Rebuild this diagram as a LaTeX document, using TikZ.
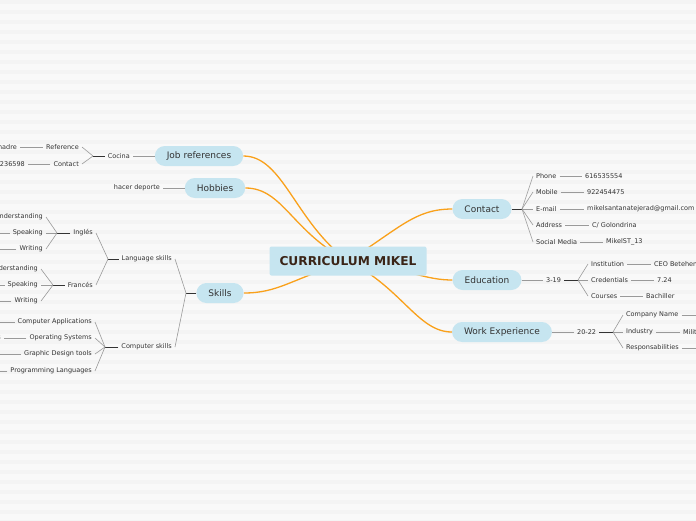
\documentclass[tikz,border=0pt]{standalone}
\usepackage{fontspec}
\setmainfont{DejaVu Sans}
\usetikzlibrary{backgrounds}
\definecolor{pill}{HTML}{C6E5F0}
\definecolor{branch}{HTML}{F9A11B}
\definecolor{ink}{HTML}{333333}
\definecolor{wire}{HTML}{9A9A9A}
\definecolor{titleink}{HTML}{3A2417}
\definecolor{paper}{HTML}{F9F9F9}
\definecolor{stripe}{HTML}{F4F4F4}
\tikzset{
  topic/.style={fill=pill,rounded corners=10pt,minimum height=20pt,inner xsep=12pt,
    font=\fontsize{9}{10}\selectfont,text=ink},
  leaf/.style={inner xsep=3pt,inner ysep=1pt,font=\fontsize{6.5}{7.5}\selectfont,text=ink},
  link/.style={wire,line width=0.8pt},
  fork/.style={ink,line width=1pt},
  fan/.style={wire,line width=0.6pt},
  curve/.style={branch,line width=1.3pt},
}
\begin{document}
\begin{tikzpicture}[x=1pt,y=-1pt]
\useasboundingbox (0,0) rectangle (696,520);
% centre and main topics
\node[fill=pill,rounded corners=2pt,minimum width=157pt,minimum height=29pt,
  font=\bfseries\fontsize{12.2}{14}\selectfont,text=titleink] (cv) at (348,261) {CURRICULUM MIKEL};
\node[topic] (jobs) at (199,156) {Job references};
\node[topic] (hobby) at (215,188) {Hobbies};
\node[topic] (skills) at (220,293) {Skills};
\node[topic] (contact) at (482,209) {Contact};
\node[topic] (edu) at (487,280) {Education};
\node[topic] (work) at (502,332) {Work Experience};
% paper and orange branches
\begin{scope}[on background layer]
\fill[paper] (0,0) rectangle (696,520);
\foreach \y in {0,10,...,520}
  \fill[stripe] (0,\y) rectangle (696,\y+4);
\draw[curve] (jobs.east) .. controls (283,156) and (295,222) .. (cv.center);
\draw[curve] (hobby.east) .. controls (283,188) and (292,232) .. (cv.center);
\draw[curve] (skills.east) .. controls (278,293) and (290,280) .. (cv.center);
\draw[curve] (contact.west) .. controls (415,209) and (400,228) .. (cv.center);
\draw[curve] (edu.west) .. controls (425,280) and (412,270) .. (cv.center);
\draw[curve] (work.west) .. controls (418,332) and (402,288) .. (cv.center);
\end{scope}
% job references
\node[leaf,anchor=east] (cocina) at (133,156) {Cocina};
\node[leaf,anchor=east] (ref) at (82,147) {Reference};
\node[leaf,anchor=east] (cont) at (82,164) {Contact};
\node[leaf,anchor=east] (madre) at (20,147) {madre};
\node[leaf,anchor=east] (num) at (28,164) {236598};
\coordinate (cocF) at (93,156);
\draw[link] (jobs.west) -- (cocina.east);
\draw[fork] (cocina.west) -- (cocF);
\draw[fan] (cocF) -- (ref.east);
\draw[fan] (cocF) -- (cont.east);
\draw[link] (ref.west) -- (madre.east);
\draw[link] (cont.west) -- (num.east);
% hobbies
\node[leaf,anchor=east] (sport) at (163,188) {hacer deporte};
\draw[link] (hobby.west) -- (sport.east);
% skills
\node[leaf,anchor=east] (lang) at (175,259) {Language skills};
\node[leaf,anchor=east] (comp) at (175,347) {Computer skills};
\coordinate (skF) at (186,293);
\draw[fork] (skills.west) -- (skF);
\draw[fan] (skF) -- (lang.east);
\draw[fan] (skF) -- (comp.east);
\node[leaf,anchor=east] (eng) at (96,233) {Inglés};
\node[leaf,anchor=east] (fra) at (96,285) {Francés};
\coordinate (langF) at (108,259);
\draw[fork] (lang.west) -- (langF);
\draw[fan] (langF) -- (eng.east);
\draw[fan] (langF) -- (fra.east);
\node[leaf,anchor=east] (und1) at (46,217) {Understanding};
\node[leaf,anchor=east] (spk1) at (46,233) {Speaking};
\node[leaf,anchor=east] (wri1) at (46,249) {Writing};
\coordinate (engF) at (57,233);
\draw[fork] (eng.west) -- (engF);
\foreach \n in {und1,spk1,wri1} \draw[fan] (engF) -- (\n.east);
\draw[link] (spk1.west) -- ++(-20,0);
\draw[link] (wri1.west) -- ++(-20,0);
\node[leaf,anchor=east] (und2) at (41,269) {Understanding};
\node[leaf,anchor=east] (spk2) at (41,285) {Speaking};
\node[leaf,anchor=east] (wri2) at (41,301) {Writing};
\coordinate (fraF) at (53,285);
\draw[fork] (fra.west) -- (fraF);
\foreach \n in {und2,spk2,wri2} \draw[fan] (fraF) -- (\n.east);
\draw[link] (spk2.west) -- ++(-20,0);
\draw[link] (wri2.west) -- ++(-20,0);
\node[leaf,anchor=east] (apps) at (95,322) {Computer Applications};
\node[leaf,anchor=east] (os) at (95,338) {Operating Systems};
\node[leaf,anchor=east] (gfx) at (95,354) {Graphic Design tools};
\node[leaf,anchor=east] (prog) at (95,371) {Programming Languages};
\node[leaf,anchor=east] (osv) at (4,338) {s};
\coordinate (compF) at (105,347);
\draw[fork] (comp.west) -- (compF);
\foreach \n in {apps,os,gfx,prog} \draw[fan] (compF) -- (\n.east);
\draw[link] (apps.west) -- ++(-20,0);
\draw[link] (os.west) -- (osv.east);
\draw[link] (gfx.west) -- ++(-25,0);
\draw[link] (prog.west) -- ++(-20,0);
% contact
\coordinate (conF) at (522,209);
\draw[fork] (contact.east) -- (conF);
\node[leaf,anchor=west] (phone) at (533,176) {Phone};
\node[leaf,anchor=west] (mob) at (533,192) {Mobile};
\node[leaf,anchor=west] (mail) at (533,209) {E-mail};
\node[leaf,anchor=west] (addr) at (533,225) {Address};
\node[leaf,anchor=west] (soc) at (533,242) {Social Media};
\foreach \n in {phone,mob,mail,addr,soc} \draw[fan] (conF) -- (\n.west);
\node[leaf,anchor=west] (phoneV) at (582,176) {616535554};
\node[leaf,anchor=west] (mobV) at (584,192) {922454475};
\node[leaf,anchor=west] (mailV) at (584,209) {mikelsantanatejerad@gmail.com};
\node[leaf,anchor=west] (addrV) at (589,225) {C/ Golondrina};
\node[leaf,anchor=west] (socV) at (603,242) {MikelST\_13};
\foreach \n in {phone,mob,mail,addr,soc} \draw[link] (\n.east) -- (\n V.west);
% education
\node[leaf,anchor=west] (yrsE) at (543,280) {3-19};
\draw[link] (edu.east) -- (yrsE.west);
\coordinate (eduF) at (578,280);
\draw[fork] (yrsE.east) -- (eduF);
\node[leaf,anchor=west] (inst) at (588,264) {Institution};
\node[leaf,anchor=west] (cred) at (588,280) {Credentials};
\node[leaf,anchor=west] (cour) at (588,296) {Courses};
\foreach \n in {inst,cred,cour} \draw[fan] (eduF) -- (\n.west);
\node[leaf,anchor=west] (instV) at (651,264) {CEO Betehen};
\node[leaf,anchor=west] (credV) at (654,280) {7.24};
\node[leaf,anchor=west] (courV) at (643,296) {Bachiller};
\foreach \n in {inst,cred,cour} \draw[link] (\n.east) -- (\n V.west);
% work experience
\node[leaf,anchor=west] (yrsW) at (574,332) {20-22};
\draw[link] (work.east) -- (yrsW.west);
\coordinate (workF) at (613,332);
\draw[fork] (yrsW.east) -- (workF);
\node[leaf,anchor=west] (firm) at (623,315) {Company Name};
\node[leaf,anchor=west] (ind) at (623,332) {Industry};
\node[leaf,anchor=west] (resp) at (623,348) {Responsabilities};
\foreach \n in {firm,ind,resp} \draw[fan] (workF) -- (\n.west);
\node[leaf,anchor=west] (indV) at (680,332) {Milit};
\draw[link] (ind.east) -- (indV.west);
\draw[link] (firm.east) -- ++(20,0);
\draw[link] (resp.east) -- ++(20,0);
\end{tikzpicture}
\end{document}
